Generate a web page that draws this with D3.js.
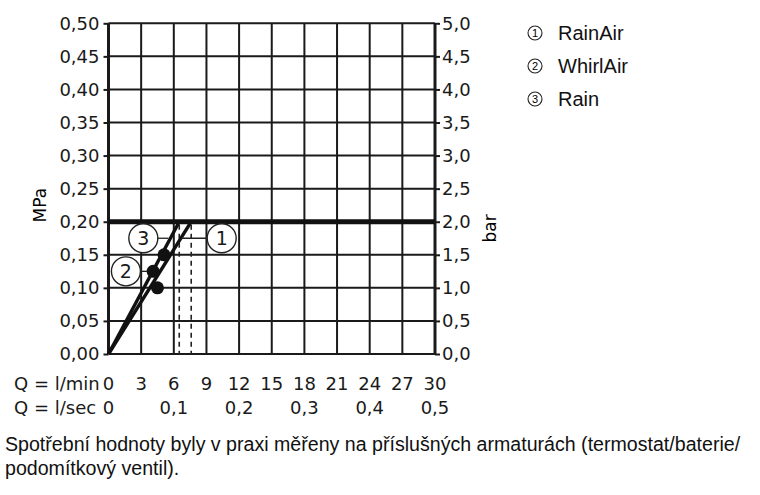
<!DOCTYPE html>
<html>
<head>
<meta charset="utf-8">
<script src="https://cdn.jsdelivr.net/npm/d3@7"></script>
<style>
  body { margin: 0; background: #fff; }
  svg { display: block; }
  .tick text { font-family: "DejaVu Sans", sans-serif; }
</style>
</head>
<body>
<div class="graph"></div>
<script>
// flow ticks (l/min and l/sec)
var qMinTicks = [0, 3, 6, 9, 12, 15, 18, 21, 24, 27, 30];
var qSecTicks = [0, 0.1, 0.2, 0.3, 0.4, 0.5];
// pressure ticks
var mpaTicks = [0, 0.05, 0.1, 0.15, 0.2, 0.25, 0.3, 0.35, 0.4, 0.45, 0.5];
var barTicks = [0, 0.5, 1, 1.5, 2, 2.5, 3, 3.5, 4, 4.5, 5];

// characteristic lines, [l/min, MPa]
var lineSteep = [[0, 0], [6.5, 0.2]];
var lineFlat = [[0, 0], [7.6, 0.2]];
// dashed flow limits at the 0.2 MPa mark
var limitQ = [6.5, 7.6];
var limitP = 0.2;

// product points
var products = ["RainAir", "WhirlAir", "Rain"];
var pointQ = [4.5, 4.1, 5.1];
var pointP = [0.10, 0.125, 0.15];
// label bubbles (data units) and where their leader ends
var labelQ = [10.4, 1.6, 3.2];
var labelP = [0.175, 0.125, 0.175];
var leaderQ = [6.7, 4.1, 5.5];

var note = ["Spotřební hodnoty byly v praxi měřeny na příslušných armaturách (termostat/baterie/",
            "podomítkový ventil)."];

var W = 760, H = 495;
var comma = function(d, n) { return d.toFixed(n).replace(".", ","); };

var x = d3.scaleLinear().domain([0, 30]).range([108.5, 435]);
var y = d3.scaleLinear().domain([0, 0.5]).range([354, 23.3]);
var yBar = d3.scaleLinear().domain([0, 5]).range([354, 23.3]);

var svg = d3.select(".graph").append("svg")
  .attr("width", W).attr("height", H);

// grid
var grid = svg.append("g").attr("stroke", "#1a1a1a").attr("stroke-width", 2);
grid.selectAll(".v").data(qMinTicks).enter().append("line")
  .attr("x1", function(d) { return x(d); }).attr("x2", function(d) { return x(d); })
  .attr("y1", y(0)).attr("y2", y(0.5))
  .attr("stroke-width", function(d, i) { return (i == 0 || i == qMinTicks.length - 1) ? 3 : 2; });
grid.selectAll(".h").data(mpaTicks).enter().append("line")
  .attr("x1", x(0)).attr("x2", x(30))
  .attr("y1", function(d) { return y(d); }).attr("y2", function(d) { return y(d); });

// left axis
var yAxis = d3.axisLeft(y).tickValues(mpaTicks).tickSize(5).tickPadding(4)
  .tickFormat(function(d) { return comma(d, 2); });
var gl = svg.append("g").attr("transform", "translate(" + x(0) + ",0)").call(yAxis);
gl.select(".domain").remove();
gl.selectAll("line").attr("stroke", "#1a1a1a").attr("stroke-width", 2);
gl.selectAll("text").attr("font-size", 18).attr("fill", "#1a1a1a");

// right axis
var yAxisR = d3.axisRight(yBar).tickValues(barTicks).tickSize(5).tickPadding(2)
  .tickFormat(function(d) { return comma(d, 1); });
var gr = svg.append("g").attr("transform", "translate(" + x(30) + ",0)").call(yAxisR);
gr.select(".domain").remove();
gr.selectAll("line").attr("stroke", "#1a1a1a").attr("stroke-width", 2);
gr.selectAll("text").attr("font-size", 18).attr("fill", "#1a1a1a");

// unit titles
svg.append("text").attr("transform", "translate(46," + y(0.225) + ") rotate(-90)")
  .attr("text-anchor", "middle").attr("font-family", "DejaVu Sans").attr("font-size", 17)
  .text("MPa");
svg.append("text").attr("transform", "translate(496," + y(0.19) + ") rotate(-90)")
  .attr("text-anchor", "middle").attr("font-family", "DejaVu Sans").attr("font-size", 17)
  .text("bar");

// bottom labels
var bot = svg.append("g").attr("font-family", "DejaVu Sans").attr("font-size", 18)
  .attr("fill", "#1a1a1a");
bot.append("text").attr("x", 14).attr("y", 390).text("Q = l/min");
bot.append("text").attr("x", 14).attr("y", 414).text("Q = l/sec");
bot.selectAll(".qm").data(qMinTicks).enter().append("text")
  .attr("x", function(d) { return x(d); }).attr("y", 390)
  .attr("text-anchor", "middle").text(function(d) { return d; });
bot.selectAll(".qs").data(qSecTicks).enter().append("text")
  .attr("x", function(d) { return x(d * 60); }).attr("y", 414)
  .attr("text-anchor", "middle").text(function(d) { return d == 0 ? "0" : comma(d, 1); });

// 0.2 MPa limit line
svg.append("line").attr("x1", x(0)).attr("x2", x(30))
  .attr("y1", y(limitP)).attr("y2", y(limitP))
  .attr("stroke", "#111").attr("stroke-width", 5);

// dashed flow limits
svg.selectAll(".dash").data(limitQ).enter().append("line")
  .attr("x1", function(d) { return x(d); }).attr("x2", function(d) { return x(d); })
  .attr("y1", y(limitP) + 3).attr("y2", y(0))
  .attr("stroke", "#222").attr("stroke-width", 1.6).attr("stroke-dasharray", "5,4");

// characteristic lines
var line = d3.line().x(function(d) { return x(d[0]); }).y(function(d) { return y(d[1]); });
svg.selectAll(".curve").data([lineSteep, lineFlat]).enter().append("path")
  .attr("d", line).attr("fill", "none").attr("stroke", "#111").attr("stroke-width", 3.4);

// leaders
svg.selectAll(".lead").data(products).enter().append("line")
  .attr("x1", function(d, i) { return x(labelQ[i]); })
  .attr("x2", function(d, i) { return x(leaderQ[i]); })
  .attr("y1", function(d, i) { return y(labelP[i]); })
  .attr("y2", function(d, i) { return y(labelP[i]); })
  .attr("stroke", "#222").attr("stroke-width", 1.3);

// points
svg.selectAll(".pt").data(products).enter().append("circle")
  .attr("cx", function(d, i) { return x(pointQ[i]); })
  .attr("cy", function(d, i) { return y(pointP[i]); })
  .attr("r", 6.5).attr("fill", "#111");

// label bubbles
var lab = svg.selectAll(".lab").data(products).enter().append("g")
  .attr("transform", function(d, i) { return "translate(" + x(labelQ[i]) + "," + y(labelP[i]) + ")"; });
lab.append("circle").attr("r", 14.5).attr("fill", "#fff").attr("stroke", "#222").attr("stroke-width", 1.4);
lab.append("text").attr("text-anchor", "middle").attr("dy", "0.36em")
  .attr("font-family", "DejaVu Sans").attr("font-size", 19).attr("fill", "#1a1a1a")
  .text(function(d, i) { return i + 1; });

// legend
var leg = svg.selectAll(".leg").data(products).enter().append("g")
  .attr("transform", function(d, i) { return "translate(535," + (33 + i * 33) + ")"; });
leg.append("circle").attr("r", 7).attr("fill", "none").attr("stroke", "#222").attr("stroke-width", 1.1);
leg.append("text").attr("text-anchor", "middle").attr("dy", "0.35em")
  .attr("font-family", "Liberation Sans").attr("font-size", 11).text(function(d, i) { return i + 1; });
leg.append("text").attr("x", 23).attr("dy", "0.36em")
  .attr("font-family", "Liberation Sans").attr("font-size", 20).attr("fill", "#111")
  .text(function(d) { return d; });

// footnote
svg.selectAll(".note").data(note).enter().append("text")
  .attr("x", 5).attr("y", function(d, i) { return 451 + i * 24; })
  .attr("font-family", "Liberation Sans").attr("font-size", 19.6).attr("fill", "#111")
  .text(function(d) { return d; });
</script>
</body>
</html>
